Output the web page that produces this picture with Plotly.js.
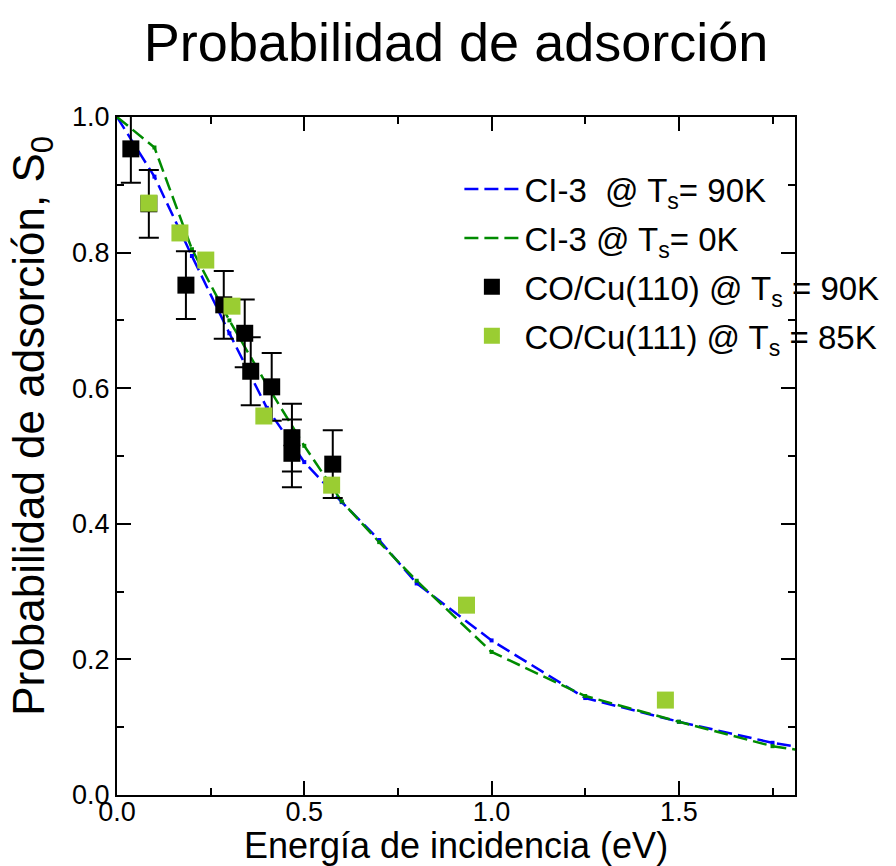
<!DOCTYPE html>
<html>
<head>
<meta charset="utf-8">
<script src="https://cdn.plot.ly/plotly-3.0.1.min.js"></script>
<style>html,body{margin:0;padding:0;background:#fff;}#chart{width:896px;height:866px;}</style>
</head>
<body>
<div id="chart"></div>
<script>
// Theoretical curves (CI-3)
const energyCalc = [0.0, 0.1, 0.2, 0.3, 0.4, 0.5, 0.6, 0.7, 0.8, 1.0, 1.25, 1.5, 1.75, 2.0];
const s0_90K    = [1.0, 0.912, 0.795, 0.681, 0.571, 0.491, 0.432, 0.376, 0.312, 0.228, 0.143, 0.108, 0.077, 0.055];
const s0_0K     = [1.0, 0.955, 0.805, 0.700, 0.605, 0.515, 0.433, 0.373, 0.316, 0.211, 0.146, 0.108, 0.072, 0.052];

// Experimental CO/Cu(110) @ 90K
const energy110 = [0.037, 0.085, 0.184, 0.285, 0.341, 0.357, 0.413, 0.467, 0.467, 0.576];
const s0_110    = [0.953, 0.872, 0.752, 0.723, 0.681, 0.625, 0.602, 0.527, 0.504, 0.488];
const err110    = [0.05, 0.05, 0.05, 0.05, 0.05, 0.05, 0.05, 0.05, 0.05, 0.05];

// Experimental CO/Cu(111) @ 85K
const energy111 = [0.085, 0.168, 0.237, 0.307, 0.392, 0.573, 0.933, 1.464];
const s0_111    = [0.873, 0.829, 0.789, 0.721, 0.559, 0.457, 0.280, 0.140];

const xTickVals = [0.0, 0.5, 1.0, 1.5];
const xTickText = ['0.0', '0.5', '1.0', '1.5'];
const yTickVals = [0.0, 0.2, 0.4, 0.6, 0.8, 1.0];
const yTickText = ['0.0', '0.2', '0.4', '0.6', '0.8', '1.0'];

const FONT = 'Liberation Sans, Arial, Helvetica, sans-serif';
const BLUE = '#0000ff', GREEN = '#008b00', LIME = '#9acd32';

const traces = [
  {x: energyCalc, y: s0_90K, mode: 'lines', name: 'CI-3\u00a0\u00a0@ T<sub>s</sub>= 90K',
   line: {color: BLUE, width: 2.5, dash: '14px,6px'}, legendgroup: 'a'},
  {x: energyCalc, y: s0_0K, mode: 'lines', name: 'CI-3 @ T<sub>s</sub>= 0K',
   line: {color: GREEN, width: 2.5, dash: '14px,6px'}, legendgroup: 'b'},
  {x: energyCalc, y: s0_90K, mode: 'markers', showlegend: false, hoverinfo: 'skip',
   marker: {color: BLUE, size: 4, symbol: 'square'}},
  {x: energyCalc, y: s0_0K, mode: 'markers', showlegend: false, hoverinfo: 'skip',
   marker: {color: GREEN, size: 4, symbol: 'square'}},
  {x: energy110, y: s0_110, mode: 'markers', name: 'CO/Cu(110) @ T<sub>s</sub> = 90K',
   marker: {color: '#000000', size: 17, symbol: 'square'}, legendgroup: 'c',
   error_y: {type: 'data', array: err110, visible: true, color: '#000000', thickness: 2, width: 10}},
  {x: energy111, y: s0_111, mode: 'markers', name: 'CO/Cu(111) @ T<sub>s</sub> = 85K',
   marker: {color: LIME, size: 17, symbol: 'square'}, legendgroup: 'd'}
];

const axisCommon = {
  showgrid: false, zeroline: false, showline: true, linecolor: '#000', linewidth: 2,
  mirror: 'ticks', ticks: 'inside', ticklen: 14, tickwidth: 2, tickcolor: '#000',
  tickfont: {family: FONT, size: 27, color: '#000'}
};

const layout = {
  width: 896, height: 866,
  margin: {l: 117, r: 101, t: 117, b: 71, autoexpand: false},
  paper_bgcolor: '#fff', plot_bgcolor: '#fff',
  font: {family: FONT, color: '#000'},
  title: {text: 'Probabilidad de adsorción', font: {family: FONT, size: 54, color: '#000'},
          x: 0.509, xanchor: 'center', y: 0.951, yanchor: 'middle'},
  xaxis: Object.assign({}, axisCommon, {
    range: [0, 1.81], tickvals: xTickVals, ticktext: xTickText, ticklabelstandoff: -8,
    minor: {dtick: 0.25, ticks: 'inside', ticklen: 7, tickwidth: 2, tickcolor: '#000', showgrid: false},
    title: {text: 'Energía de incidencia (eV)', font: {family: FONT, size: 36, color: '#000'}, standoff: 0}
  }),
  yaxis: Object.assign({}, axisCommon, {
    range: [0, 1], tickvals: yTickVals, ticktext: yTickText,
    minor: {dtick: 0.1, ticks: 'inside', ticklen: 7, tickwidth: 2, tickcolor: '#000', showgrid: false}
  }),
  annotations: [{
    text: 'Probabilidad de adsorción, S<sub>0</sub>', textangle: -90,
    xref: 'paper', yref: 'paper', x: -0.125, y: 0.545, xanchor: 'center', yanchor: 'middle',
    showarrow: false, font: {family: FONT, size: 44, color: '#000'}
  }],
  showlegend: true,
  legend: {x: 0.505, xanchor: 'left', y: 0.935, yanchor: 'top', bgcolor: 'rgba(0,0,0,0)',
           font: {family: FONT, size: 33, color: '#000'}, tracegroupgap: 3, itemwidth: 55}
};

Plotly.newPlot('chart', traces, layout, {displayModeBar: false, staticPlot: true});
</script>
</body>
</html>
